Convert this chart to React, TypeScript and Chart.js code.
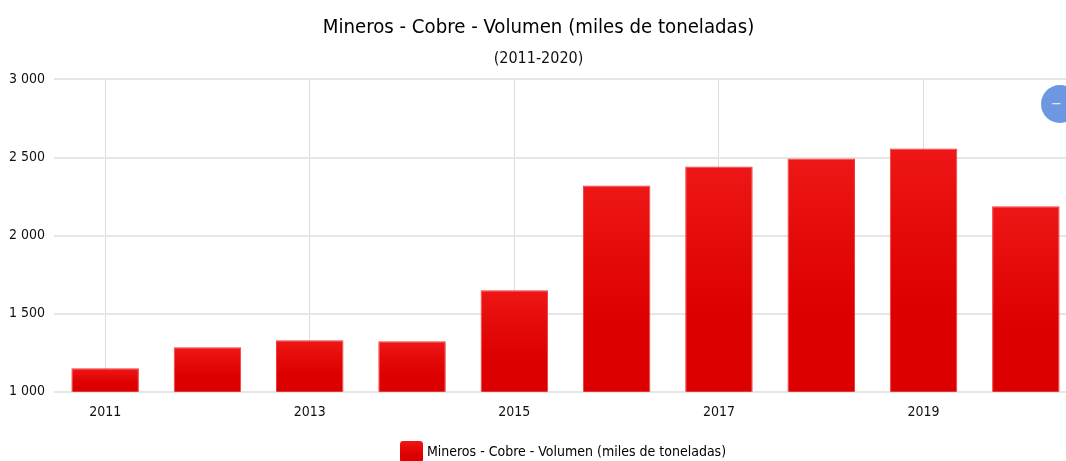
import React, { useEffect, useRef } from "react";
import { Chart, registerables } from "chart.js";

Chart.register(...registerables);

const years = ["2011", "2012", "2013", "2014", "2015", "2016", "2017", "2018", "2019", "2020"];
const volumes = [1150, 1284, 1329, 1323, 1649, 2321, 2443, 2494, 2558, 2187];
const seriesName = "Mineros - Cobre - Volumen (miles de toneladas)";
const titleText = "Mineros - Cobre - Volumen (miles de toneladas)";
const subtitleText = "(2011-2020)";
const fontName = "'DejaVu Sans Condensed', 'DejaVu Sans', sans-serif";

const legendPlacement = {
  id: "legendPlacement",
  afterLayout(chart: any) {
    if (chart.legend) {
      chart.legend.left = chart.chartArea.left - 1;
      chart.legend.right = chart.chartArea.right - 1;
    }
  },
};

function legendSwatch() {
  const c = document.createElement("canvas");
  c.width = 23;
  c.height = 23;
  const x = c.getContext("2d") as CanvasRenderingContext2D;
  const g = x.createLinearGradient(0, 0, 0, 23);
  g.addColorStop(0, "#ee1616");
  g.addColorStop(0.65, "#dd0000");
  x.fillStyle = g;
  x.beginPath();
  x.roundRect(0, 0, 23, 23, 4);
  x.fill();
  return c;
}

export default function App() {
  const ref = useRef<HTMLCanvasElement | null>(null);
  useEffect(() => {
    document.body.style.margin = "0";
    const swatch = legendSwatch();
    const chart = new Chart(ref.current as HTMLCanvasElement, {
      type: "bar",
      data: {
        labels: years,
        datasets: [
          {
            label: seriesName,
            data: volumes,
            categoryPercentage: 1,
            barPercentage: 0.66,
            borderWidth: 1,
            borderColor: "#f03a3a",
            backgroundColor: (ctx: any) => {
              const { chart: c, dataIndex } = ctx;
              const y = c.scales?.y;
              if (!y || dataIndex === undefined) return "#e00404";
              const top = y.getPixelForValue(volumes[dataIndex]);
              const bottom = y.getPixelForValue(y.min);
              const g = c.ctx.createLinearGradient(0, top, 0, bottom);
              g.addColorStop(0, "#ee1616");
              g.addColorStop(0.65, "#dd0000");
              g.addColorStop(1, "#dd0000");
              return g;
            },
          },
        ],
      },
      options: {
        responsive: false,
        animation: false,
        layout: { padding: { left: 0, right: 3, top: 16, bottom: 0 } },
        plugins: {
          tooltip: { enabled: false },
          title: {
            display: true,
            text: titleText,
            color: "#000000",
            font: { family: fontName, size: 20.2, weight: "normal" },
            padding: { top: 0, bottom: 9 },
          },
          subtitle: {
            display: true,
            text: subtitleText,
            color: "#111111",
            font: { family: fontName, size: 16, weight: "normal" },
            padding: { top: 0, bottom: 11 },
          },
          legend: {
            display: true,
            position: "bottom",
            labels: {
              usePointStyle: true,
              pointStyleWidth: 17,
              padding: 11.5,
              color: "#111111",
              font: { family: fontName, size: 14 },
              generateLabels: () => [
                {
                  text: seriesName,
                  pointStyle: swatch,
                  fillStyle: "#e40808",
                  strokeStyle: "#e40808",
                  lineWidth: 0,
                  datasetIndex: 0,
                },
              ],
            },
          },
        },
        scales: {
          x: {
            offset: true,
            border: { display: false },
            grid: {
              offset: false,
              drawTicks: false,
              color: (ctx: any) => (ctx.index % 2 === 0 ? "#dddddd" : "rgba(0,0,0,0)"),
            },
            ticks: {
              autoSkip: false,
              maxRotation: 0,
              padding: 12.5,
              color: "#111111",
              font: { family: fontName, size: 14 },
              callback: (_v: any, i: number) => (i % 2 === 0 ? years[i] : ""),
            },
          },
          y: {
            min: 1000,
            max: 3000,
            border: { display: false },
            grid: { drawTicks: false, color: "#e6e6e6", lineWidth: 2 },
            afterFit: (s: any) => {
              s.width = 54;
            },
            ticks: {
              stepSize: 500,
              padding: 9,
              color: "#111111",
              font: { family: fontName, size: 14 },
              callback: (v: any) => String(v).replace(/\B(?=(\d{3})+$)/g, " "),
            },
          },
        },
      } as any,
      plugins: [legendPlacement],
    });
    return () => chart.destroy();
  }, []);
  return (
    <div style={{ position: "fixed", left: 0, top: 0, width: 1066, height: 461, overflow: "hidden", background: "#fff" }}>
      <canvas ref={ref} width={1080} height={469} style={{ display: "block", width: 1080, height: 469 }} />
      <div
        style={{
          position: "absolute",
          left: 1041,
          top: 85,
          width: 38,
          height: 38,
          borderRadius: "50%",
          background: "#6d97e0",
          color: "#dfe8f8",
          fontFamily: fontName,
          fontSize: 14,
          lineHeight: "36px",
          paddingLeft: 10,
          boxSizing: "border-box",
        }}
      >
        −
      </div>
    </div>
  );
}
